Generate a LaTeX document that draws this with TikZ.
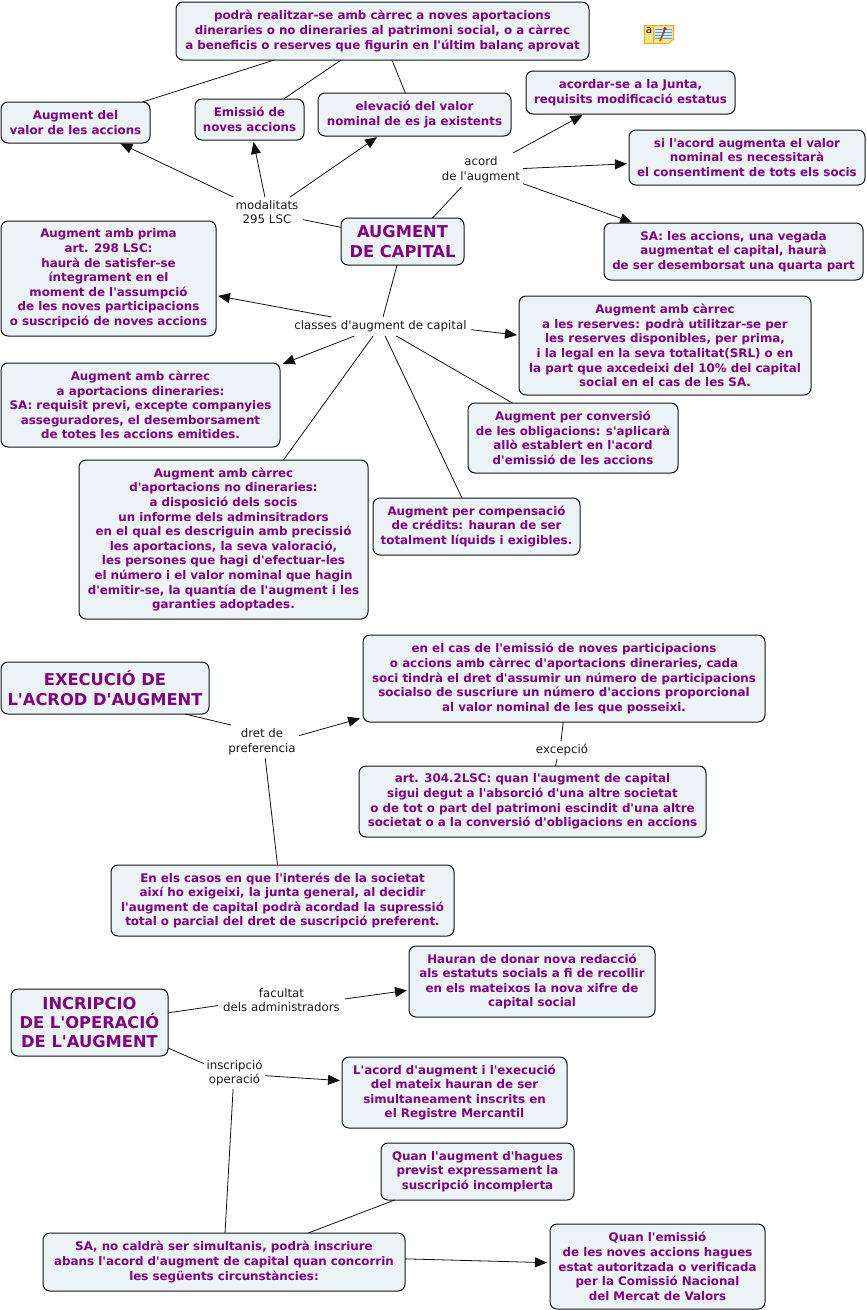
\documentclass[tikz,border=0pt]{standalone}
\usepackage{fontspec}
\newfontfamily\dv{DejaVu Sans}
\usetikzlibrary{arrows.meta}
\definecolor{boxfill}{HTML}{ECF3F6}
\definecolor{txtpurple}{HTML}{800080}
\definecolor{linecol}{HTML}{111111}
\definecolor{iconbody}{HTML}{FFE38A}
\definecolor{iconedge}{HTML}{E8AE10}
\definecolor{iconline}{HTML}{5A9BD8}
\tikzset{
  concept/.style={draw=linecol,line width=1pt,rounded corners=7pt,fill=boxfill,inner sep=0pt,outer sep=0pt,align=center,text=txtpurple,font=\dv\fontsize{11.85}{14.6}\selectfont\bfseries},
  title/.style={concept,font=\dv\fontsize{16.3}{19.4}\selectfont\bfseries},
  linklabel/.style={inner sep=0pt,outer sep=0pt,align=center,text=black!90,font=\dv\fontsize{11.8}{14.6}\selectfont},
  plain/.style={draw=linecol,line width=0.8pt},
  arrow/.style={plain,-{Triangle[length=12pt,width=10pt]}},
}
\newcommand{\bx}[7][concept]{%
  \pgfmathsetmacro{\bxcx}{(#3+#5)/2}\pgfmathsetmacro{\bxcy}{(#4+#6)/2}%
  \pgfmathsetmacro{\bxw}{#5-#3}\pgfmathsetmacro{\bxh}{#6-#4}%
  \node[#1,minimum width=\bxw pt,minimum height=\bxh pt] (#2) at (\bxcx,\bxcy) {#7};}
\begin{document}
\begin{tikzpicture}[x=1pt,y=-1pt]
\useasboundingbox (0,0) rectangle (867,1310);
% concepts
\bx{top}{176}{2}{589}{60}{podrà realitzar-se amb càrrec a noves aportacions\\dineraries o no dineraries al patrimoni social, o a càrrec\\a beneficis o reserves que figurin en l'últim balanç aprovat}
\bx{valor}{1}{102}{150}{143}{Augment del\\valor de les accions}
\bx{emis}{195}{99}{304}{140}{Emissió de\\noves accions}
\bx{elev}{318}{93}{511}{136}{elevació del valor\\nominal de es ja existents}
\bx{acordar}{526}{71}{735}{114}{acordar-se a la Junta,\\requisits modificació estatus}
\bx{si}{629}{130}{865}{185}{si l'acord augmenta el valor\\nominal es necessitarà\\el consentiment de tots els socis}
\bx{sa}{604}{223}{863}{280}{SA: les accions, una vegada\\augmentat el capital, haurà\\de ser desemborsat una quarta part}
\bx[title]{aug}{341}{218}{464}{265}{AUGMENT\\DE CAPITAL}
\bx{prima}{1}{221}{216}{336}{Augment amb prima\\art. 298 LSC:\\haurà de satisfer-se\\íntegrament en el\\moment de l'assumpció\\de les noves participacions\\o suscripció de noves accions}
\bx{reserv}{519}{296}{811}{395}{Augment amb càrrec\\a les reserves: podrà utilitzar-se per\\les reserves disponibles, per prima,\\i la legal en la seva totalitat(SRL) o en\\la part que axcedeixi del 10\% del capital\\social en el cas de les SA.}
\bx{dinera}{1}{363}{280}{447}{Augment amb càrrec\\a aportacions dineraries:\\SA: requisit previ, excepte companyies\\asseguradores, el desemborsament\\de totes les accions emitides.}
\bx{conv}{468}{403}{678}{473}{Augment per conversió\\de les obligacions: s'aplicarà\\allò establert en l'acord\\d'emissió de les accions}
\bx{nodin}{79}{460}{368}{619}{Augment amb càrrec\\d'aportacions no dineraries:\\a disposició dels socis\\un informe dels adminsitradors\\en el qual es descriguin amb precissió\\les aportacions, la seva valoració,\\les persones que hagi d'efectuar-les\\el número i el valor nominal que hagin\\d'emitir-se, la quantía de l'augment i les\\garanties adoptades.}
\bx{comp}{373}{498}{580}{555}{Augment per compensació\\de crédits: hauran de ser\\totalment líquids i exigibles.}
\bx[title]{exec}{1}{662}{209}{714}{EXECUCIÓ DE\\L'ACROD D'AUGMENT}
\bx{pref}{363}{635}{765}{722}{en el cas de l'emissió de noves participacions\\o accions amb càrrec d'aportacions dineraries, cada\\soci tindrà el dret d'assumir un número de participacions\\socialso de suscriure un número d'accions proporcional\\al valor nominal de les que posseixi.}
\bx{art}{359}{766}{706}{837}{art. 304.2LSC: quan l'augment de capital\\sigui degut a l'absorció d'una altre societat\\o de tot o part del patrimoni escindit d'una altre\\societat o a la conversió d'obligacions en accions}
\bx{enels}{111}{865}{454}{936}{En els casos en que l'interés de la societat\\així ho exigeixi, la junta general, al decidir\\l'augment de capital podrà acordad la supressió\\total o parcial del dret de suscripció preferent.}
\bx[title]{inscr}{11}{989}{168}{1056}{INCRIPCIO\\DE L'OPERACIÓ\\DE L'AUGMENT}
\bx{hauran}{409}{946}{655}{1017}{Hauran de donar nova redacció\\als estatuts socials a fi de recollir\\en els mateixos la nova xifre de\\capital social}
\bx{lacord}{342}{1057}{567}{1128}{L'acord d'augment i l'execució\\del mateix hauran de ser\\simultaneament inscrits en\\el Registre Mercantil}
\bx{quanaug}{381}{1143}{574}{1200}{Quan l'augment d'hagues\\previst expressament la\\suscripció incomplerta}
\bx{sano}{43}{1233}{405}{1291}{SA, no caldrà ser simultanis, podrà inscriure\\abans l'acord d'augment de capital quan concorrin\\les següents circunstàncies:}
\bx{quanem}{550}{1224}{765}{1309}{Quan l'emissió\\de les noves accions hagues\\estat autoritzada o verificada\\per la Comissió Nacional\\del Mercat de Valors}
% link labels
\bx[linklabel]{lmod}{231}{197}{303}{227}{modalitats\\295 LSC}
\bx[linklabel]{lacd}{439}{153}{523}{187}{acord\\de l'augment}
\bx[linklabel]{lcla}{290}{317}{471}{336}{classes d'augment de capital}
\bx[linklabel]{ldre}{225}{725}{299}{758}{dret de\\preferencia}
\bx[linklabel]{lexc}{535}{741}{589}{759}{excepció}
\bx[linklabel]{lfac}{218}{985}{345}{1015}{facultat\\dels administradors}
\bx[linklabel]{lins}{204}{1057}{265}{1089}{inscripció\\operació}
% plain connectors
\draw[plain] (top.195.3) -- (valor.17.5);
\draw[plain] (top.-145.7) -- (emis.31);
\draw[plain] (top.-72) -- (elev.113.8);
\draw[plain] (aug.167.6) -- (lmod.-12.5);
\draw[plain] (aug.38.5) -- (lacd.221.8);
\draw[plain] (aug.-103.2) -- (lcla.75.3);
\draw[plain] (lcla.-128.3) -- (nodin.53.5);
\draw[plain] (lcla.-64.7) -- (comp.117);
\draw[plain] (lcla.-31.5) -- (conv.150.9);
\draw[plain] (exec.-18.6) -- (ldre.152);
\draw[plain] (ldre.-79) -- (enels.98.8);
\draw[plain] (pref.-91.3) -- (lexc.96.3);
\draw[plain] (lexc.-119) -- (art.57.6);
\draw[plain] (inscr.7.6) -- (lfac.185.4);
\draw[plain] (inscr.-18.7) -- (lins.163.6);
\draw[plain] (lins.-95.4) -- (sano.88);
\draw[plain] (sano.19.3) -- (quanaug.199.1);
% arrows
\draw[arrow,shorten >=1pt] (lmod.156) -- (valor.-25.5);
\draw[arrow,shorten >=2pt] (lmod.98) -- (emis.-80.3);
\draw[arrow,shorten >=2pt] (lmod.33) -- (elev.211.5);
\draw[arrow,shorten >=2pt] (lacd.28) -- (acordar.205);
\draw[arrow,shorten >=2pt] (lacd.2.7) -- (si.-177.3);
\draw[arrow,shorten >=2pt] (lacd.-18.4) -- (sa.164.5);
\draw[arrow,shorten >=2pt] (lcla.169.1) -- (prima.-9.8);
\draw[arrow,shorten >=3pt] (lcla.200.4) -- (dinera.16.7);
\draw[arrow,shorten >=2pt] (lcla.-2.8) -- (reserv.176.3);
\draw[arrow,shorten >=3pt] (ldre.9) -- (pref.191.7);
\draw[arrow,shorten >=2pt] (lfac.1.8) -- (hauran.184.4);
\draw[arrow,shorten >=2pt] (lins.-5.6) -- (lacord.174.7);
\draw[arrow,shorten >=3pt] (sano.1.3) -- (quanem.178.1);
% annotation icon
\fill[iconbody,draw=iconedge,line width=0.9pt] (644.5,25.5) -- (673.5,25.5) -- (673.5,39) -- (668.5,43.5) -- (644.5,43.5) -- cycle;
\fill[white!75!iconline] (654.5,28) rectangle (672,38.5);
\draw[iconedge,line width=0.5pt] (653.5,26) -- (653.5,43);
\draw[iconline,line width=0.7pt] (655,29.5) -- (671.5,29.5) (655,32.5) -- (671.5,32.5) (655,35.5) -- (671.5,35.5) (655,38.5) -- (671.5,38.5);
\draw[iconedge!60!black,line width=1.8pt] (660,41) -- (664.5,30);
\fill[red!70!black] (665,28.5) circle (1.6pt);
\node[inner sep=0pt,font=\dv\fontsize{10.5}{10.5}\selectfont] (icona) at (649,30.5) {a};
\end{tikzpicture}
\end{document}
